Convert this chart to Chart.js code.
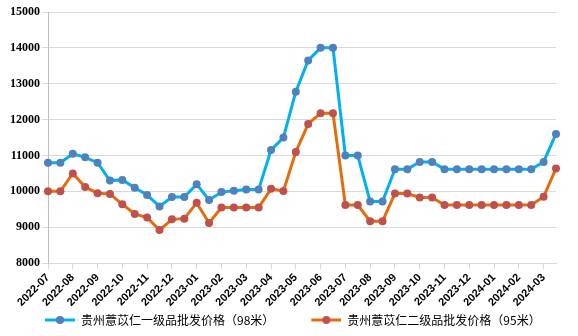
<!DOCTYPE html>
<html>
<head>
<meta charset="utf-8">
<script src="https://cdn.jsdelivr.net/npm/chart.js@4/dist/chart.umd.min.js"></script>
<style>
  html, body { margin: 0; padding: 0; background: #fff; }
  #wrap { width: 578px; height: 336px; }
</style>
</head>
<body>
<div id="wrap"><canvas id="price-chart"></canvas></div>
<script>
// months shown on the axis; data is twice a month (1st and 15th)
const months = [
  '2022-07', '2022-08', '2022-09', '2022-10', '2022-11', '2022-12',
  '2023-01', '2023-02', '2023-03', '2023-04', '2023-05', '2023-06',
  '2023-07', '2023-08', '2023-09', '2023-10', '2023-11', '2023-12',
  '2024-01', '2024-02', '2024-03'
];
const days = ['01', '15'];

const grade1Name = '贵州薏苡仁一级品批发价格（98米）';
const grade2Name = '贵州薏苡仁二级品批发价格（95米）';

const grade1Prices = [
  10800, 10800, 11050, 10950, 10800, 10300, 10320, 10100, 9900, 9580,
  9840, 9840, 10200, 9760, 9980, 10020, 10050, 10050, 11150, 11500,
  12780, 13650, 14000, 14000, 11000, 11000, 9720, 9720, 10620, 10620,
  10820, 10820, 10620, 10620, 10620, 10620, 10620, 10620, 10620, 10620,
  10820, 11600
];
const grade2Prices = [
  10000, 10000, 10500, 10120, 9950, 9930, 9640, 9370, 9270, 8920,
  9220, 9240, 9680, 9120, 9550, 9550, 9550, 9550, 10070, 10010,
  11100, 11880, 12180, 12180, 9620, 9620, 9170, 9170, 9940, 9940,
  9830, 9830, 9620, 9620, 9620, 9620, 9620, 9620, 9620, 9620,
  9850, 10640
];

const yMin = 8000;
const yMax = 15000;
const yStep = 1000;

const labels = months.flatMap(m => days.map(d => m + '-' + d));

const BLUE_LINE = '#00b0f0';
const BLUE_DOT = '#4f81bd';
const ORANGE_LINE = '#e46c0a';
const ORANGE_DOT = '#c0504d';
const GRID = '#d9d9d9';

const ICON_PAD = 34;   // empty room left of each legend line
const ICON_W = ICON_PAD + 30;

/**
 * Legend icon: a short line with a dot, with empty room on its left
 * so that the items sit apart like in the original
 */
function makeLegendIcon(lineColor, dotColor) {
  const c = document.createElement('canvas');
  c.width = ICON_W;
  c.height = 10;
  const g = c.getContext('2d');
  g.strokeStyle = lineColor;
  g.lineWidth = 3;
  g.beginPath();
  g.moveTo(ICON_PAD, 5);
  g.lineTo(ICON_W, 5);
  g.stroke();
  g.fillStyle = dotColor;
  g.beginPath();
  g.arc(ICON_PAD + 15, 5, 4, 0, Math.PI * 2);
  g.fill();
  return c;
}

const icons = [
  makeLegendIcon(BLUE_LINE, BLUE_DOT),
  makeLegendIcon(ORANGE_LINE, ORANGE_DOT)
];

new Chart(document.getElementById('price-chart'), {
  type: 'line',
  data: {
    labels: labels,
    datasets: [{
      label: grade1Name,
      data: grade1Prices,
      borderColor: BLUE_LINE,
      borderWidth: 3,
      pointRadius: 4,
      pointBackgroundColor: BLUE_DOT,
      pointBorderColor: BLUE_DOT,
      pointBorderWidth: 0,
      tension: 0
    }, {
      label: grade2Name,
      data: grade2Prices,
      borderColor: ORANGE_LINE,
      borderWidth: 3,
      pointRadius: 4,
      pointBackgroundColor: ORANGE_DOT,
      pointBorderColor: ORANGE_DOT,
      pointBorderWidth: 0,
      tension: 0
    }]
  },
  options: {
    responsive: true,
    maintainAspectRatio: false,
    animation: false,
    layout: {
      padding: { top: 12, left: 8, right: 22, bottom: 0 }
    },
    plugins: {
      tooltip: { enabled: false },
      legend: {
        position: 'bottom',
        align: 'start',
        labels: {
          usePointStyle: true,
          pointStyleWidth: ICON_W,
          padding: 3,
          color: '#333',
          font: { family: 'Noto Sans CJK SC', size: 12 },
          generateLabels: (chart) => chart.data.datasets.map((ds, i) => ({
            text: ds.label,
            pointStyle: icons[i],
            fillStyle: ds.borderColor,
            strokeStyle: ds.borderColor,
            lineWidth: 0,
            hidden: false,
            datasetIndex: i
          }))
        }
      }
    },
    scales: {
      x: {
        offset: false,
        grid: {
          drawOnChartArea: false,
          tickLength: 6,
          color: (ctx) => (ctx.index % 2 === 0 ? GRID : 'rgba(0,0,0,0)')
        },
        border: { color: GRID },
        ticks: {
          autoSkip: false,
          maxRotation: 45,
          minRotation: 45,
          padding: 2,
          color: '#000',
          font: { family: 'Liberation Sans', size: 11, weight: 'bold' },
          callback: function (value, index) {
            return index % 2 === 0 ? this.getLabelForValue(value).slice(0, 7) : '';
          }
        }
      },
      y: {
        min: yMin,
        max: yMax,
        grid: { color: GRID, tickLength: 6 },
        border: { color: '#bfbfbf' },
        ticks: {
          stepSize: yStep,
          padding: 2,
          color: '#000',
          font: { family: 'Liberation Serif', size: 12, weight: 'bold' },
          callback: (value) => String(value)
        }
      }
    }
  }
});
</script>
</body>
</html>
